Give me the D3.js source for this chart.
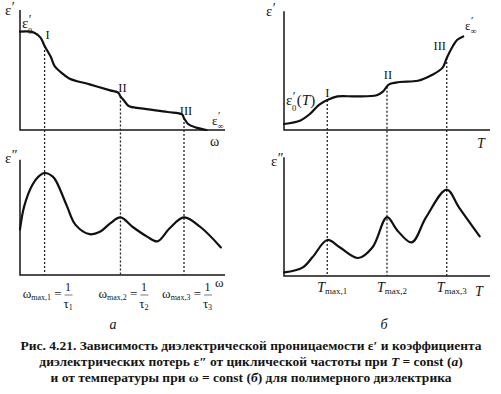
<!DOCTYPE html>
<html>
<head>
<meta charset="utf-8">
<script src="https://cdn.jsdelivr.net/npm/d3@7"></script>
<style>
  body { margin: 0; background: #fff; }
  text { font-family: "Liberation Serif", "Times New Roman", serif; fill: #151515; }
</style>
</head>
<body>
<svg id="fig" width="501" height="394"></svg>
<script>
// values, both axes in relative units 0..100
// panel a: eps'(omega) and eps''(omega) at T = const
var freqPermittivity = [[0,82],[5,82],[7,81],[10,77],[12,70],[15,61],[17,53],[20,48],[24,43],[34,38],
    [44,33],[48,31],[49,28],[51,24],[53,20],[59,18],[72,15],[79,13],[80,10],[82,5],[86,2],[91,0]];
var freqLoss = [[0,38],[2,57],[6,75],[9,82],[12,85],[16,82],[18,77],[23,57],[27,42],[34,34],[39,36],
    [44,43],[49,48],[55,40],[62,32],[67,28],[73,39],[80,48],[88,40],[98,23]];
// panel b: eps'(T) and eps''(T) at omega = const
var tempPermittivity = [[0,5],[8,8],[13,14],[17,21],[21,25],[26,28],[35,28],[45,29],[48,32],[51,38],
    [56,40],[65,41],[72,46],[77,52],[79,60],[82,70],[84,75],[87,78]];
var tempLoss = [[0,3],[9,7],[14,16],[21,30],[27,24],[36,15],[43,24],[50,49],[55,38],[62,28],[69,49],
    [79,72],[85,57],[95,33]];

var freqPeaks = [12, 49, 80];
var tempPeaks = [21, 50, 79];
var regionNames = ["I", "II", "III"];
var peakIndex = ["1", "2", "3"];
var captionLines = [
    "Рис. 4.21. Зависимость диэлектрической проницаемости ε′ и коэффициента",
    "диэлектрических потерь ε″ от циклической частоты при |T| = const (|а|)",
    "и от температуры при ω = const (|б|) для полимерного диэлектрика"
];

var svg = d3.select("#fig");

var xa = d3.scaleLinear().domain([0, 100]).range([20, 225]),
    xb = d3.scaleLinear().domain([0, 100]).range([284, 490]),
    yTop = d3.scaleLinear().domain([0, 100]).range([130, 10]),
    yLossA = d3.scaleLinear().domain([0, 100]).range([275, 155]),
    yLossB = d3.scaleLinear().domain([0, 100]).range([276, 156]);

// linear lookup on a series, used to start the dashed guides on the curve
function valueAt(series, x) {
    var i = d3.bisector(d => d[0]).left(series, x);
    if (series[i][0] === x || i === 0) return series[i][1];
    var a = series[i - 1], b = series[i];
    return a[1] + (b[1] - a[1]) * (x - a[0]) / (b[0] - a[0]);
}

function axes(x, y, yMax) {
    svg.append("path")
        .attr("d", "M" + x(0) + "," + y(yMax) + "V" + y(0) + "H" + x(100))
        .attr("fill", "none").attr("stroke", "#151515").attr("stroke-width", 1.5);
}

function curve(series, x, y) {
    svg.append("path")
        .datum(series)
        .attr("fill", "none")
        .attr("stroke", "#111")
        .attr("stroke-width", 2.2)
        .attr("stroke-linecap", "round")
        .attr("d", d3.line().x(d => x(d[0])).y(d => y(d[1])).curve(d3.curveCatmullRom.alpha(0.5)));
}

function guides(peaks, series, x, yA, yB) {
    svg.selectAll(null).data(peaks).enter().append("line")
        .attr("x1", d => x(d)).attr("x2", d => x(d))
        .attr("y1", d => yA(valueAt(series, d)))
        .attr("y2", yB(0))
        .attr("stroke", "#222").attr("stroke-width", 1.3)
        .attr("stroke-dasharray", "2,2");
}

// eps with prime mark and optional subscript (prime over subscript)
function eps(x, y, mark, sub, tail, small) {
    var t = svg.append("text").attr("x", x).attr("y", y).style("font-size", small ? "13px" : "15px");
    t.append("tspan").text("ε");
    if (!sub) {
        t.append("tspan").attr("dx", 0.5).attr("dy", -3).style("font-size", "14px").text(mark);
        return;
    }
    if (small) {
        t.append("tspan").attr("dx", 0.5).attr("dy", -6).style("font-size", "11px").text(mark);
        t.append("tspan").attr("dx", -3).attr("dy", 10).style("font-size", "8.5px").text(sub);
        return;
    }
    t.append("tspan").attr("dx", 0.5).attr("dy", -5).style("font-size", "12.5px").text(mark);
    t.append("tspan").attr("dx", -3.5).attr("dy", 11).style("font-size", "8.5px").text(sub);
    if (tail) {
        t.append("tspan").attr("dx", 0.5).attr("dy", -6).text("(");
        t.append("tspan").style("font-style", "italic").text("T");
        t.append("tspan").text(")");
    }
}

function label(x, y, s, italic, size, anchor) {
    return svg.append("text").attr("x", x).attr("y", y)
        .attr("text-anchor", anchor || "start")
        .style("font-size", (size || 13) + "px")
        .style("font-style", italic ? "italic" : null)
        .text(s);
}

// panel a
axes(xa, yTop, 100);
axes(xa, yLossA, 96);
guides(freqPeaks, freqPermittivity, xa, yTop, yLossA);
curve(freqPermittivity, xa, yTop);
curve(freqLoss, xa, yLossA);

// panel b
axes(xb, yTop, 99);
axes(xb, yLossB, 99);
guides(tempPeaks, tempPermittivity, xb, yTop, yLossB);
curve(tempPermittivity, xb, yTop);
curve(tempLoss, xb, yLossB);

// region numbers above the curve
var offA = [[3, -7], [2, -4], [2, -3]],
    offB = [[0, -3], [1, -8], [-7, -8]];
regionNames.forEach((n, i) => {
    label(xa(freqPeaks[i]) + offA[i][0], yTop(valueAt(freqPermittivity, freqPeaks[i])) + offA[i][1], n, false, 12.5, "middle");
    label(xb(tempPeaks[i]) + offB[i][0], yTop(valueAt(tempPermittivity, tempPeaks[i])) + offB[i][1], n, false, 12.5, "middle");
});

// axis names
eps(5, 15, "′");
eps(5, 163, "″");
eps(266, 16, "′");
eps(271, 166, "″");
eps(22, 28, "′", "0");
eps(212, 125, "′", "∞", false, true);
eps(465, 30, "′", "∞", false, true);
eps(286, 105, "′", "0", true);
label(210, 146, "ω", false, 14);
label(215, 287, "ω", false, 13);
label(477, 148, "T", true, 14);
label(475, 296, "T", true, 14);

// peak frequencies omega_max,i = 1/tau_i
freqPeaks.forEach((p, i) => {
    var px = xa(p);
    var t = label(px + 17, 298, "", false, 13, "end");
    t.append("tspan").text("ω");
    t.append("tspan").attr("dy", 2).style("font-size", "8px").text("max," + peakIndex[i]);
    t.append("tspan").attr("dy", -2).text(" =");
    label(px + 23.5, 291, "1", false, 12, "middle");
    svg.append("line").attr("x1", px + 20).attr("x2", px + 28).attr("y1", 295).attr("y2", 295)
        .attr("stroke", "#444").attr("stroke-width", 0.7);
    var tau = label(px + 23.5, 308, "", false, 13, "middle");
    tau.append("tspan").text("τ");
    tau.append("tspan").attr("dy", 2).style("font-size", "8px").text(peakIndex[i]);
});

// peak temperatures
tempPeaks.forEach((p, i) => {
    var t = label(xb(p) - 10, 292, "", false, 14, "start");
    t.append("tspan").style("font-style", "italic").text("T");
    t.append("tspan").attr("dy", 2).style("font-size", "9px").text("max," + peakIndex[i]);
});

label(113, 329, "а", true, 14, "middle");
label(384, 329, "б", true, 14, "middle");

// caption; parts between bars are italic
captionLines.forEach((line, i) => {
    var t = svg.append("text").attr("x", 251).attr("y", 350 + i * 16)
        .attr("text-anchor", "middle")
        .style("font-size", "13.5px").style("font-weight", "bold");
    line.split("|").forEach((part, j) => {
        t.append("tspan").style("font-style", j % 2 ? "italic" : null).text(part);
    });
});
</script>
</body>
</html>
